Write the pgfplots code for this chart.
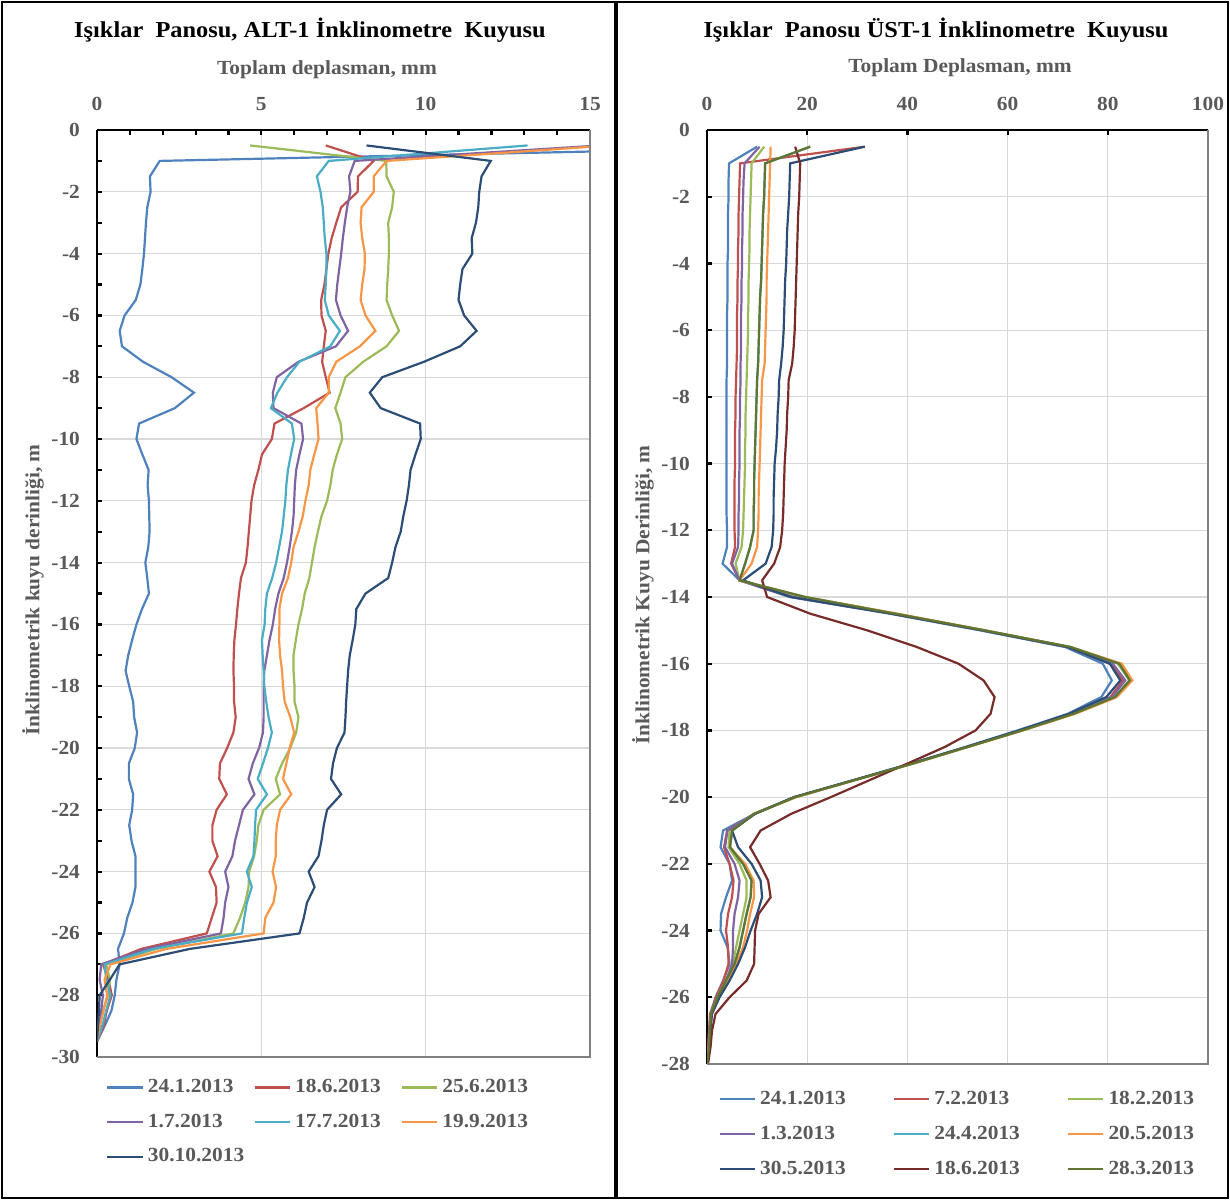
\documentclass[border=0pt]{standalone}
\usepackage{pgfplots}
\pgfplotsset{compat=1.18}
\usepackage{pgfplotstable}
\usepackage{fontspec}
\setmainfont{Liberation Serif}[FakeStretch=1.07]

\definecolor{cA}{HTML}{4F81BD}
\definecolor{cB}{HTML}{C0504D}
\definecolor{cC}{HTML}{9BBB59}
\definecolor{cD}{HTML}{8064A2}
\definecolor{cE}{HTML}{4BACC6}
\definecolor{cF}{HTML}{F79646}
\definecolor{cG}{HTML}{2C4D75}
\definecolor{cH}{HTML}{772C2A}
\definecolor{cI}{HTML}{5F7530}
\definecolor{txtgray}{HTML}{595959}
\definecolor{gridgray}{HTML}{D9D9D9}

\newcommand{\tl}{\fontsize{10}{12}\selectfont\bfseries}
\newcommand{\lgd}{\fontsize{10}{12}\selectfont\bfseries}
\newcommand{\al}{\fontsize{10}{12}\selectfont\bfseries}
\newcommand{\ttl}{\fontsize{11.4}{14}\selectfont\bfseries}

% ALT-1: depth (m) and total displacement (mm) per survey date
\pgfplotstableread{
d     A     B     C     D     E     F     G
-0.5  23.5  6.96  4.66  15.3  13.1  15.6  8.2
-1    1.91  8.42  8.8   7.84  7.05  8.81  11.98
-1.5  1.61  7.94  8.81  7.67  6.69  8.42  11.70
-2    1.63  7.93  9.03  7.71  6.80  8.42  11.63
-2.5  1.53  7.43  8.98  7.61  6.87  8.05  11.60
-3    1.49  7.28  8.86  7.54  6.90  8.02  11.53
-3.5  1.46  7.14  8.88  7.48  6.93  8.07  11.40
-4    1.43  7.04  8.88  7.43  6.98  8.15  11.42
-4.5  1.38  6.98  8.86  7.37  6.98  8.14  11.12
-5    1.32  6.92  8.83  7.31  6.96  8.07  11.05
-5.5  1.18  6.82  8.81  7.27  6.93  8.02  11.00
-6    0.84  6.83  8.98  7.41  7.05  8.17  11.17
-6.5  0.69  6.96  9.19  7.64  7.39  8.47  11.55
-7    0.76  6.90  8.81  7.27  7.10  8.00  11.05
-7.5  1.40  6.85  8.10  6.13  6.16  7.28  9.95
-8    2.27  6.96  7.56  5.47  5.78  7.05  8.68
-8.5  2.95  7.08  7.41  5.35  5.49  7.05  8.30
-9    2.37  6.29  7.25  5.37  5.29  6.67  8.63
-9.5  1.28  5.40  7.41  6.22  5.93  6.71  9.83
-10   1.20  5.32  7.46  6.27  6.00  6.74  9.85
-10.5 1.38  5.02  7.30  6.16  5.90  6.61  9.69
-11   1.57  4.91  7.17  6.06  5.81  6.49  9.54
-11.5 1.54  4.78  7.10  6.02  5.76  6.44  9.49
-12   1.58  4.70  7.00  6.00  5.73  6.34  9.42
-12.5 1.59  4.66  6.83  5.98  5.68  6.26  9.32
-13   1.60  4.62  6.72  5.93  5.63  6.13  9.24
-13.5 1.56  4.58  6.62  5.86  5.54  5.98  9.08
-14   1.47  4.53  6.54  5.78  5.45  5.91  8.98
-14.5 1.53  4.38  6.46  5.68  5.33  5.81  8.86
-15   1.58  4.32  6.32  5.52  5.17  5.63  8.17
-15.5 1.37  4.27  6.24  5.42  5.12  5.55  7.89
-16   1.20  4.23  6.13  5.35  5.10  5.55  7.86
-16.5 1.07  4.18  6.05  5.25  5.02  5.54  7.78
-17   0.95  4.16  5.98  5.17  5.04  5.57  7.69
-17.5 0.87  4.15  5.98  5.09  5.07  5.63  7.64
-18   0.98  4.17  6.01  5.07  5.09  5.66  7.61
-18.5 1.10  4.17  6.01  5.07  5.15  5.71  7.58
-19   1.13  4.22  6.13  5.07  5.22  5.88  7.56
-19.5 1.22  4.15  6.06  5.05  5.32  6.00  7.53
-20   1.15  3.96  5.88  4.93  5.20  5.86  7.30
-20.5 0.97  3.74  5.63  4.74  5.05  5.76  7.18
-21   0.97  3.72  5.44  4.61  4.89  5.66  7.12
-21.5 1.10  3.95  5.57  4.79  5.17  5.91  7.43
-22   1.07  3.64  5.07  4.44  4.84  5.57  7.00
-22.5 0.98  3.51  4.91  4.32  4.81  5.47  6.90
-23   1.05  3.51  4.86  4.20  4.79  5.44  6.83
-23.5 1.17  3.67  4.78  4.12  4.76  5.44  6.74
-24   1.17  3.42  4.63  3.90  4.56  5.34  6.44
-24.5 1.17  3.62  4.61  4.00  4.71  5.45  6.62
-25   1.08  3.64  4.51  3.90  4.56  5.37  6.39
-25.5 0.92  3.49  4.35  3.85  4.48  5.12  6.29
-26   0.82  3.34  4.15  3.77  4.41  5.07  6.16
-26.5 0.64  1.35  1.81  1.51  1.71  2.12  2.83
-27   0.69  0.18  0.28  0.13  0.23  0.41  0.69
-27.5 0.59  0.35  0.39  0.08  0.28  0.23  0.39
-28   0.54  0.45  0.34  0.18  0.41  0.31  0.08
-28.5 0.44  0.30  0.18  0.13  0.28  0.20  0.06
-29   0.23  0.20  0.08  0.08  0.16  0.08  0.03
-29.5 0.00  0.00  0.00  0.00  0.00  0.00  0.00
}\tabL

% UST-1
\pgfplotstableread{
d     A     B     C     D     E     F     G     H     I
-0.5  10.0  31.5  11.4  10.5  20.6  12.7  31.5  17.6  20.6
-1    4.4   6.6   8.9   7.5   11.6  12.6  16.6  18.6  11.6
-1.5  4.3   6.5   8.8   7.3   11.5  12.5  16.5  18.5  11.5
-2    4.3   6.4   8.7   7.2   11.4  12.4  16.4  18.4  11.4
-2.5  4.2   6.3   8.6   7.1   11.2  12.3  16.2  18.2  11.2
-3    4.2   6.3   8.5   7.1   11.1  12.2  16.0  18.1  11.1
-3.5  4.2   6.2   8.5   7.0   11.0  12.1  15.9  18.0  11.0
-4    4.1   6.2   8.4   7.0   10.9  12.0  15.8  17.9  10.9
-4.5  4.1   6.1   8.3   6.9   10.8  11.9  15.6  17.8  10.8
-5    4.1   6.1   8.3   6.9   10.6  11.9  15.5  17.7  10.6
-5.5  4.0   6.0   8.2   6.8   10.5  11.8  15.4  17.6  10.5
-6    4.0   6.0   8.2   6.8   10.4  11.7  15.3  17.5  10.4
-6.5  4.0   6.0   8.1   6.8   10.3  11.6  15.1  17.3  10.3
-7    4.0   5.9   8.0   6.7   10.2  11.5  14.8  17.0  10.2
-7.5  3.9   5.8   7.9   6.7   10.0  11.0  14.4  16.3  10.0
-8    3.9   5.7   7.8   6.6   9.9   10.9  14.3  16.2  9.9
-8.5  3.9   5.7   7.7   6.6   9.8   10.8  14.1  16.0  9.8
-9    3.9   5.6   7.7   6.5   9.7   10.7  14.0  15.9  9.7
-9.5  3.9   5.6   7.6   6.5   9.6   10.6  13.8  15.7  9.6
-10   3.9   5.6   7.6   6.5   9.5   10.5  13.5  15.5  9.5
-10.5 3.9   5.5   7.5   6.4   9.4   10.4  13.4  15.4  9.4
-11   3.9   5.5   7.4   6.4   9.4   10.3  13.3  15.3  9.4
-11.5 3.9   5.5   7.3   6.3   9.3   10.3  13.3  15.2  9.3
-12   4.0   5.5   7.2   6.3   9.3   10.2  13.2  15.0  9.3
-12.5 4.0   5.6   6.9   6.2   8.6   10.0  12.9  14.6  8.6
-13   3.1   4.8   5.7   5.0   7.6   8.9   11.7  13.4  7.6
-13.5 6.5   6.5   6.5   6.5   6.5   6.5   7.2   11.0  6.5
-14   16.5  17.0  19.0  17.2  19.6  19.5  16.8  12.0  19.6
-14.5 36.5  37.0  37.5  37.2  37.6  38.0  36.8  20.6  37.6
-15   54.5  55.0  55.3  55.2  55.4  55.5  55.0  32.0  55.4
-15.5 71.5  72.0  72.5  72.2  72.6  72.5  72.0  41.9  72.6
-16   79.0  80.5  82.0  81.0  82.3  82.8  80.4  50.2  82.3
-16.5 80.8  83.0  84.3  83.5  84.4  84.9  82.5  55.2  84.4
-17   78.7  80.5  81.3  80.8  81.4  81.8  79.7  57.4  81.4
-17.5 72.0  72.5  73.2  72.8  73.2  73.5  72.3  56.6  73.2
-18   62.0  62.5  62.9  62.6  62.9  63.0  62.3  53.6  62.9
-18.5 51.5  51.8  51.9  51.8  51.9  52.0  51.6  47.4  51.9
-19   40.5  40.8  40.9  40.8  40.9  41.0  40.6  39.9  40.9
-19.5 29.0  29.2  29.2  29.2  29.2  29.3  29.0  32.3  29.2
-20   17.5  17.5  17.5  17.5  17.6  17.8  17.3  24.7  17.6
-20.5 9.5   9.5   9.3   9.4   9.4   9.5   9.6   16.8  9.4
-21   3.2   4.0   4.5   4.1   5.0   5.0   5.0   10.7  5.0
-21.5 2.7   3.4   4.3   3.6   4.6   4.6   6.2   8.6   4.6
-22   4.5   4.5   6.5   5.5   7.2   7.6   8.9   10.5  7.2
-22.5 5.0   5.3   7.9   6.5   8.9   9.3   10.7  12.2  8.9
-23   3.8   5.0   7.9   6.2   8.7   9.4   11.0  12.7  8.7
-23.5 2.8   4.2   7.2   5.5   7.9   8.6   10.0  10.3  7.9
-24   2.7   3.8   6.5   5.2   7.2   8.0   8.7   9.6   7.2
-24.5 4.1   4.2   5.8   5.2   6.5   7.2   7.6   9.5   6.5
-25   4.5   4.3   5.2   5.0   5.5   5.8   6.2   9.4   5.5
-25.5 3.2   3.3   3.8   3.8   3.8   4.1   4.5   7.9   3.8
-26   1.7   1.8   2.1   2.1   2.1   2.4   2.5   4.5   2.1
-26.5 0.7   0.6   0.8   0.8   0.8   0.9   1.0   1.7   0.8
-27   0.5   0.4   0.6   0.5   0.6   0.6   0.7   1.0   0.6
-27.5 0.3   0.2   0.4   0.3   0.4   0.4   0.5   0.7   0.4
-28   0.0   0.0   0.0   0.0   0.0   0.0   0.0   0.2   0.0
}\tabR

\pgfplotsset{
  incl/.style={
    scale only axis, enlargelimits=false,
    axis x line=top, axis y line=left,
    axis line style={-, black, line width=1.3pt},
    tick align=inside, tick style={black, line width=1.1pt},
    major tick length=2.6pt, minor tick length=2.6pt,
    xmajorgrids, ymajorgrids,
    major grid style={gridgray, line width=0.6pt},
    /pgf/number format/assume math mode=true,
    tick label style={font=\tl, text=txtgray},
    xticklabel shift=6pt, yticklabel shift=5pt,
    clip mode=individual,
    every axis plot/.append style={line width=1.1pt, no markers},
    legend image code/.code={\draw[##1] (0pt,0pt) -- (17.75pt,0pt);},
    legend cell align=left,
  },
}

\begin{document}
\begin{tikzpicture}
\path[use as bounding box] (0pt,0pt) rectangle (615pt,-600pt);

\begin{axis}[incl, at={(48.5pt,-65pt)}, anchor=north west,
  width=246.5pt, height=463.5pt,
  xmin=0, xmax=15, ymin=-30, ymax=0,
  xtick={0,5,10,15}, minor x tick num=4,
  ytick={0,-2,...,-30}, minor y tick num=1,
  legend columns=3,
  legend style={draw=none, fill=none, at={(0.018,-0.0194)}, anchor=north west,
    column sep=0pt, row sep=5.3pt, inner sep=0pt, font=\lgd, text=txtgray,
    nodes={inner xsep=2pt, inner ysep=1.5pt, text height=7pt, text depth=2pt}}]
\addplot[cA] table[x=A, y=d] {\tabL};
\addplot[cB] table[x=B, y=d] {\tabL};
\addplot[cC] table[x=C, y=d] {\tabL};
\addplot[cD] table[x=D, y=d] {\tabL};
\addplot[cE] table[x=E, y=d] {\tabL};
\addplot[cF] table[x=F, y=d] {\tabL};
\addplot[cG] table[x=G, y=d] {\tabL};
\draw[gray, line width=0.6pt] (rel axis cs:0,0) -- (rel axis cs:1,0) -- (rel axis cs:1,1);
\legend{\makebox[50.75pt][l]{24.1.2013}, \makebox[50.75pt][l]{18.6.2013}, \makebox[50.75pt][l]{25.6.2013},
  \makebox[50.75pt][l]{1.7.2013}, \makebox[50.75pt][l]{17.7.2013}, \makebox[50.75pt][l]{19.9.2013},
  \makebox[50.75pt][l]{30.10.2013}}
\end{axis}

\begin{axis}[incl, at={(353.5pt,-65pt)}, anchor=north west,
  width=250.5pt, height=467pt,
  xmin=0, xmax=100, ymin=-28, ymax=0,
  xtick={0,20,...,100}, ytick={0,-2,...,-28},
  legend columns=3,
  legend style={draw=none, fill=none, at={(0.022,-0.0245)}, anchor=north west,
    column sep=0pt, row sep=5.5pt, inner sep=0pt, font=\lgd, text=txtgray,
    nodes={inner xsep=2pt, inner ysep=1.5pt, text height=7pt, text depth=2pt}}]
\addplot[cA] table[x=A, y=d] {\tabR};
\addplot[cB] table[x=B, y=d] {\tabR};
\addplot[cC] table[x=C, y=d] {\tabR};
\addplot[cD] table[x=D, y=d] {\tabR};
\addplot[cE] table[x=E, y=d] {\tabR};
\addplot[cF] table[x=F, y=d] {\tabR};
\addplot[cG] table[x=G, y=d] {\tabR};
\addplot[cH] table[x=H, y=d] {\tabR};
\addplot[cI] table[x=I, y=d] {\tabR};
\draw[gray, line width=0.6pt] (rel axis cs:0,0) -- (rel axis cs:1,0) -- (rel axis cs:1,1);
\legend{\makebox[64.25pt][l]{24.1.2013}, \makebox[64.25pt][l]{7.2.2013}, \makebox[64.25pt][l]{18.2.2013},
  \makebox[64.25pt][l]{1.3.2013}, \makebox[64.25pt][l]{24.4.2013}, \makebox[64.25pt][l]{20.5.2013},
  \makebox[64.25pt][l]{30.5.2013}, \makebox[64.25pt][l]{18.6.2013}, \makebox[64.25pt][l]{28.3.2013}}
\end{axis}

% panel frames, titles and axis titles
\draw[line width=1pt] (1pt,-1pt) rectangle (307.5pt,-599pt);
\draw[line width=1pt] (308.5pt,-1pt) rectangle (614pt,-599pt);
\node[font=\ttl] at (155pt,-15pt) {Işıklar\ \ Panosu, ALT-1 İnklinometre\ \ Kuyusu};
\node[font=\ttl] at (468pt,-15pt) {Işıklar\ \ Panosu ÜST-1 İnklinometre\ \ Kuyusu};
\node[font=\al, text=txtgray] at (163.5pt,-35pt) {Toplam deplasman, mm};
\node[font=\al, text=txtgray] at (480pt,-34pt) {Toplam Deplasman, mm};
\node[font=\al, text=txtgray, rotate=90] at (16.5pt,-295pt) {İnklinometrik kuyu derinliği, m};
\node[font=\al, text=txtgray, rotate=90] at (321.5pt,-297.5pt) {İnklinometrik Kuyu Derinliği, m};
\end{tikzpicture}
\end{document}
